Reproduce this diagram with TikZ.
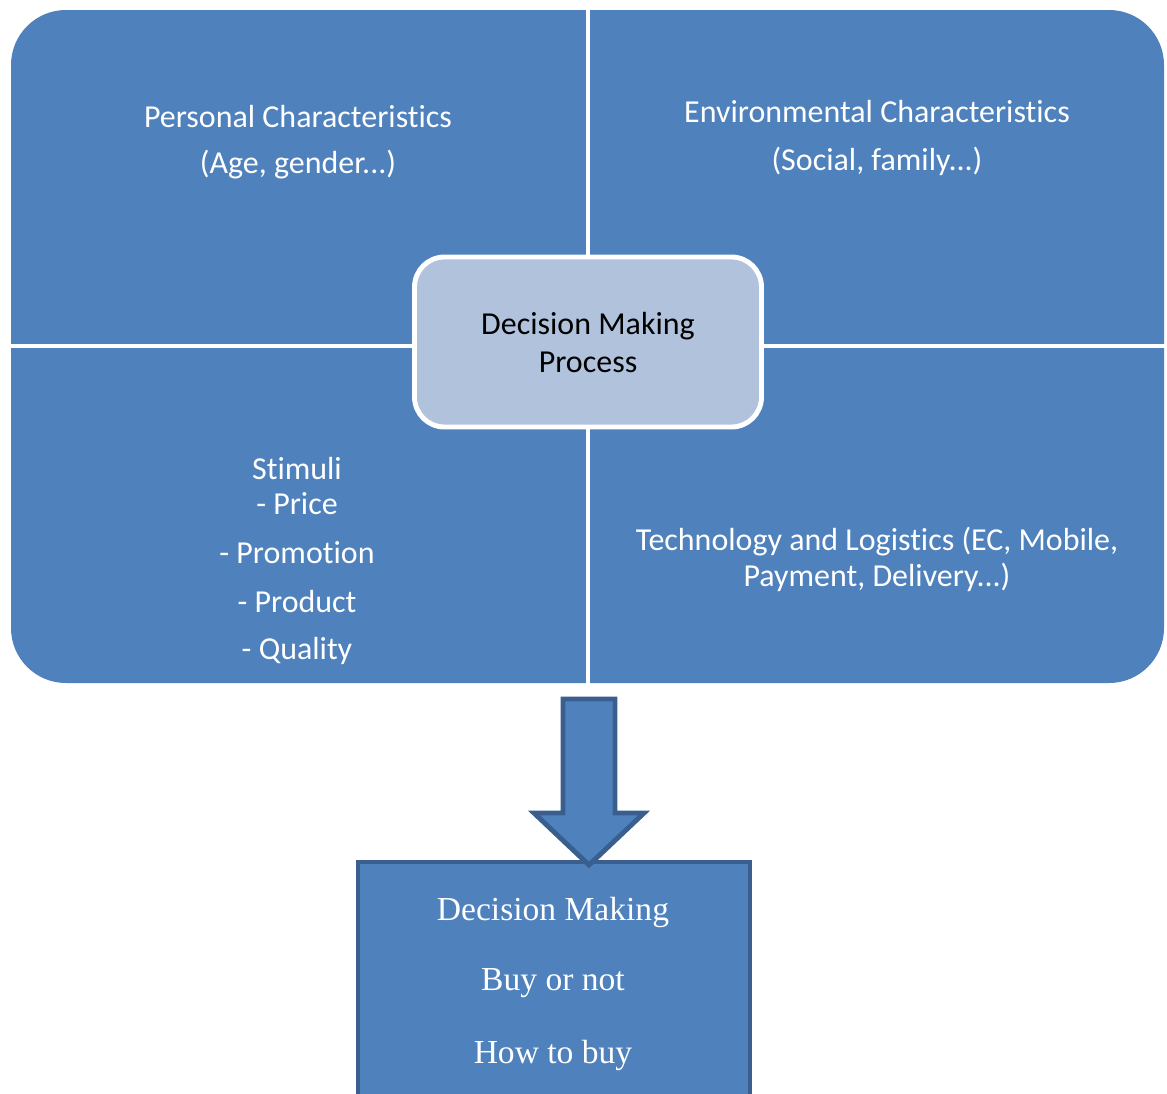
\documentclass[tikz,border=0pt]{standalone}
\usepackage{fontspec}
\setmainfont{Carlito}[Ligatures={NoCommon}]
\newfontfamily\tnr{Liberation Serif}[Ligatures={NoCommon}]
\definecolor{fillblue}{HTML}{4F81BD}
\definecolor{edgeblue}{HTML}{3A5F8F}
\definecolor{lightblue}{HTML}{B1C2DD}
\tikzset{
  wtxt/.style={text=white, font=\fontsize{18.2}{21}\selectfont, inner sep=0pt, anchor=center},
  btxt/.style={text=black, font=\fontsize{18.2}{21}\selectfont, inner sep=0pt, anchor=center},
  stxt/.style={text=white, font=\tnr\fontsize{19.1}{22}\selectfont, inner sep=0pt, anchor=center},
}
\begin{document}
\begin{tikzpicture}[x=0.02cm,y=-0.02cm]
\clip (0,0) rectangle (1167,1093);
\fill[white] (0,0) rectangle (1167,1093);
% big rounded block
\fill[fillblue, rounded corners=55*0.02cm] (11,10) rectangle (1164,683);
\draw[white, line width=2.8pt] (588,8) -- (588,685);
\draw[white, line width=2.4pt] (9,346) -- (1166,346);
% centre box
\node[draw=white, line width=2.8pt, fill=lightblue, rounded corners=30*0.02cm,
      minimum width=347*0.02cm, minimum height=170*0.02cm, inner sep=0pt] (dmp) at (588,342) {};
\node[btxt] (dmp1) at (588,326) {Decision Making};
\node[btxt] (dmp2) at (588,362) {Process};
% quadrant texts
\node[wtxt] (pc1) at (298,117) {Personal Characteristics};
\node[wtxt] (pc2) at (298,165) {(Age, gender...)};
\node[wtxt] (ec1) at (877,112) {Environmental Characteristics};
\node[wtxt] (ec2) at (877,161) {(Social, family...)};
\node[wtxt] (st0) at (297,469) {Stimuli};
\node[wtxt] (st1) at (297,504) {- Price};
\node[wtxt] (st2) at (297,553) {- Promotion};
\node[wtxt] (st3) at (297,602) {- Product};
\node[wtxt] (st4) at (297,651) {- Quality};
\node[wtxt] (tl1) at (877,542) {Technology and Logistics (EC, Mobile,};
\node[wtxt] (tl2) at (877,577) {Payment, Delivery...)};
% bottom box
\node[draw=edgeblue, line width=2.8pt, fill=fillblue, inner sep=0pt,
      minimum width=392*0.02cm, minimum height=260*0.02cm] (dm) at (554,992) {};
\node[stxt] (dm1) at (553,912) {Decision Making};
\node[stxt] (dm2) at (553,983) {Buy or not};
\node[stxt] (dm3) at (553,1055) {How to buy};
% block arrow
\draw[edgeblue, fill=fillblue, line width=2.8pt, line join=miter]
  (563,699) -- (615,699) -- (615,813) -- (644,813) -- (589,865) -- (534,813) -- (563,813) -- cycle;
\end{tikzpicture}
\end{document}
